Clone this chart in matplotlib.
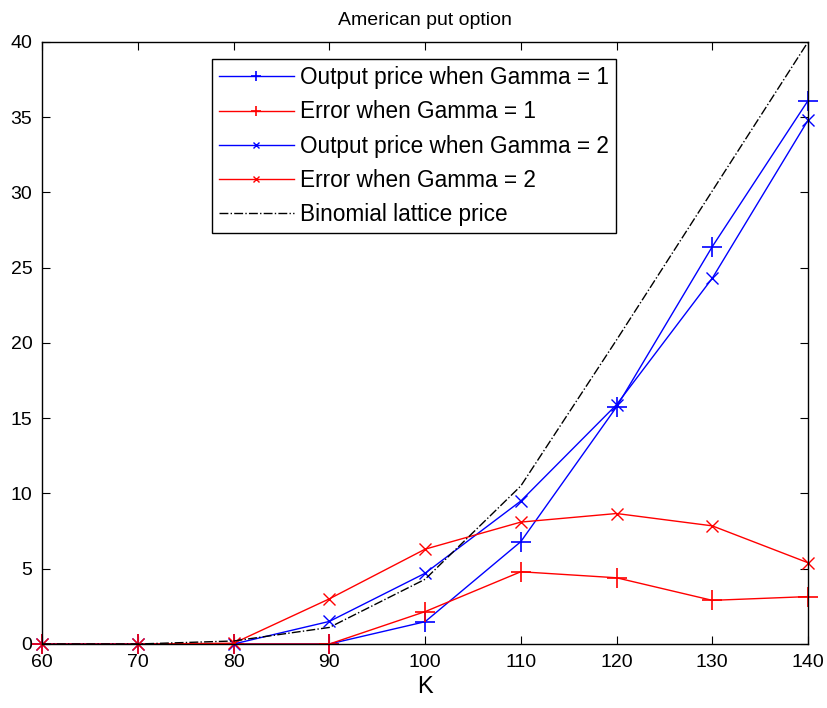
import matplotlib
matplotlib.use("Agg")
import matplotlib.pyplot as plt

plt.rcParams['font.family'] = ['Liberation Sans', 'DejaVu Sans']

K = [60, 70, 80, 90, 100, 110, 120, 130, 140]
price_g1 = [0, 0, 0, 0, 1.48, 6.8, 15.75, 26.4, 36.1]
error_g1 = [0, 0, 0, 0, 2.15, 4.8, 4.4, 2.9, 3.15]
price_g2 = [0, 0, 0, 1.5, 4.7, 9.5, 15.9, 24.3, 34.8]
error_g2 = [0, 0, 0.05, 3.0, 6.3, 8.1, 8.67, 7.85, 5.4]
binomial = [0, 0, 0.2, 1.1, 4.3, 10.5, 20.2, 30.1, 40.0]

fig = plt.figure(figsize=(8.27, 7.08), dpi=100)
ax = fig.add_axes([0.051, 0.0904, 0.926, 0.8503])

ax.plot(K, price_g1, color='blue', marker='+', markersize=14, lw=1,
        mew=1.2, clip_on=False, label='Output price when Gamma = 1')
ax.plot(K, error_g1, color='red', marker='+', markersize=14, lw=1,
        mew=1.2, clip_on=False, label='Error when Gamma = 1')
ax.plot(K, price_g2, color='blue', marker='x', markersize=8, lw=1,
        mew=1, clip_on=False, label='Output price when Gamma = 2')
ax.plot(K, error_g2, color='red', marker='x', markersize=8, lw=1,
        mew=1, clip_on=False, label='Error when Gamma = 2')
ax.plot(K, binomial, color='black', ls='-.', lw=1,
        label='Binomial lattice price')

ax.set_xlim(60, 140)
ax.set_ylim(0, 40)
ax.set_xticks(range(60, 141, 10))
ax.set_yticks(range(0, 41, 5))
ax.tick_params(direction='in', top=True, right=True, length=6,
               labelsize=14, pad=7)
for s in ax.spines.values():
    s.set_linewidth(1)

ax.set_title('American put option', fontsize=14, pad=12)
ax.set_xlabel('K', fontsize=17, labelpad=4)

leg = ax.legend(loc='upper left', bbox_to_anchor=(0.207, 0.99), fontsize=16.3,
                fancybox=False, edgecolor='black', framealpha=1,
                handlelength=3.3, borderpad=0.3, labelspacing=0.5,
                handletextpad=0.3, markerscale=0.55)
leg.get_frame().set_linewidth(1)

fig.savefig('out.png', dpi=100)
